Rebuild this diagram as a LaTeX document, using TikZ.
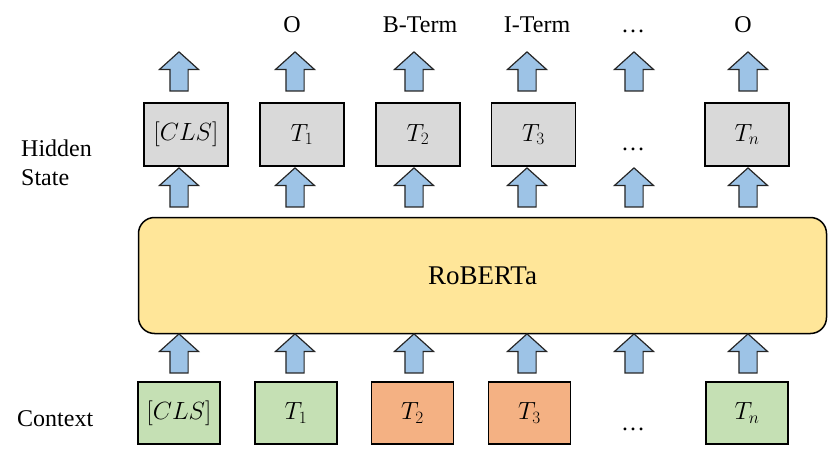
\documentclass[tikz,border=0pt]{standalone}
\usepackage{fontspec}
\setmainfont{Liberation Serif}
\usetikzlibrary{shapes.arrows,positioning}
\definecolor{hidgray}{HTML}{D9D9D9}
\definecolor{ctxgreen}{HTML}{C5E0B4}
\definecolor{asporange}{HTML}{F4B183}
\definecolor{encyellow}{HTML}{FFE699}
\definecolor{flowblue}{HTML}{9DC3E6}
\tikzset{
    tok/.style={draw, line width=1.5pt, minimum width=82pt, minimum height=62pt, inner sep=0pt, font=\fontsize{25}{28}\selectfont},
    ctx/.style={tok, fill=ctxgreen},
    asp/.style={tok, fill=asporange},
    hid/.style={tok, fill=hidgray, minimum width=84pt, minimum height=63pt},
    flow/.style={single arrow, draw=black!85, line width=1.2pt, fill=flowblue, rotate=90, minimum height=39pt, minimum width=38pt, single arrow head extend=10.5pt, single arrow tip angle=96, inner ysep=8.5pt, inner xsep=0pt},
    lbl/.style={font=\fontsize{24}{29}\selectfont, inner sep=0pt},
    encoder/.style={draw, line width=1.5pt, rounded corners=16pt, fill=encyellow, minimum width=688pt, minimum height=116pt, font=\fontsize{27}{30}\selectfont}
}
\begin{document}
\begin{tikzpicture}[x=1pt, y=-1pt]
    \useasboundingbox (0,0) rectangle (828,452);
    % encoder
    \node[encoder] (roberta) at (482.5,275.5) {RoBERTa};
    % input tokens
    \node[ctx] (cls) at (179,413) {$[CLS]$};
    \node[ctx] (t1) at (296,413) {$T_1$};
    \node[asp] (t2) at (412.5,413) {$T_2$};
    \node[asp] (t3) at (529.5,413) {$T_3$};
    \node[lbl, anchor=base] (tdots) at (633,430) {…};
    \node[ctx] (tn) at (747,413) {$T_n$};
    % hidden states
    \node[hid] (hcls) at (186,134.5) {$[CLS]$};
    \node[hid] (h1) at (302,134.5) {$T_1$};
    \node[hid] (h2) at (418,134.5) {$T_2$};
    \node[hid] (h3) at (533.5,134.5) {$T_3$};
    \node[lbl, anchor=base] (hdots) at (633,150) {…};
    \node[hid] (hn) at (747,134.5) {$T_n$};
    % tags
    \node[lbl, anchor=base] (o1) at (292,33) {O};
    \node[lbl, anchor=base] (bterm) at (420,33) {B-Term};
    \node[lbl, anchor=base] (iterm) at (537,33) {I-Term};
    \node[lbl, anchor=base] (odots) at (633,33) {…};
    \node[lbl, anchor=base] (on) at (743,33) {O};
    % side labels
    \node[lbl, anchor=north west, align=left] (hidden) at (21,140) {Hidden\\State};
    \node[lbl, anchor=base west] (context) at (17,426) {Context};
    % block arrows
    \foreach \x [count=\i] in {179,295,414,527,634,748}{
        \node[flow] (ain\i) at (\x,357.5) {};
        \node[flow] (aenc\i) at (\x,191.5) {};
        \node[flow] (aout\i) at (\x,75.5) {};
    }
\end{tikzpicture}
\end{document}
